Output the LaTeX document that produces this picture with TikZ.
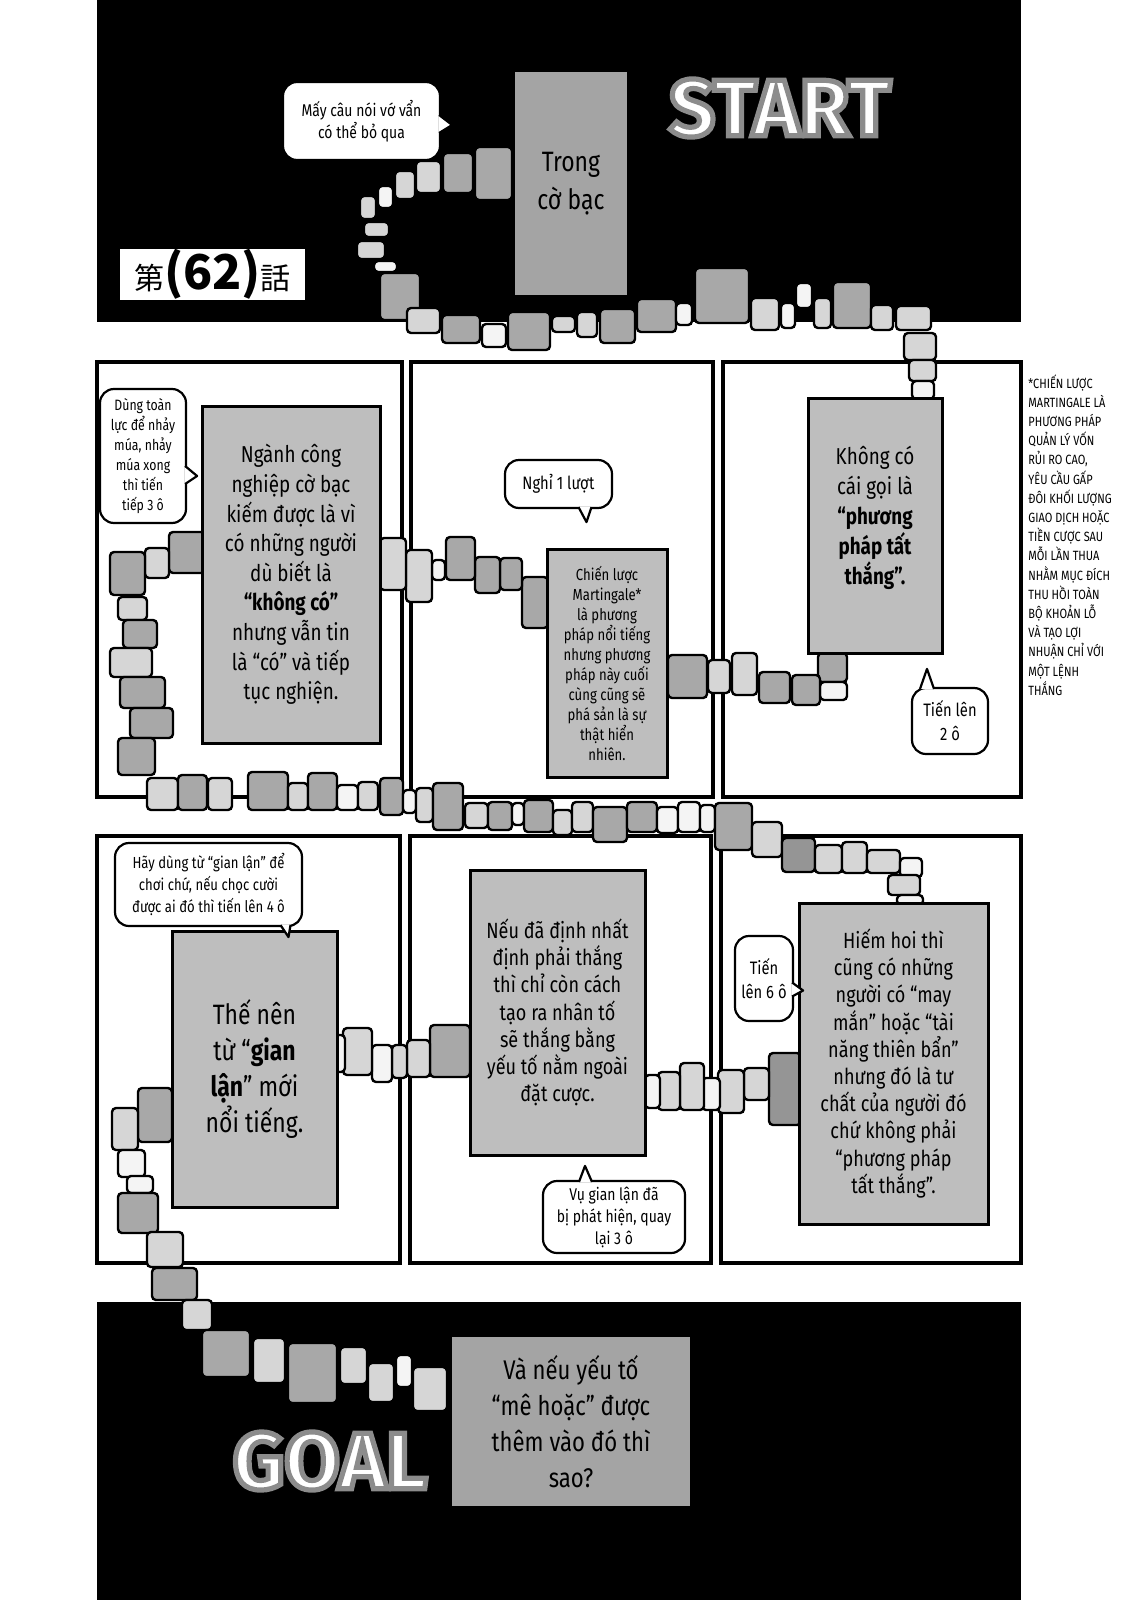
\documentclass[tikz,border=0pt]{standalone}
\usepackage{fontspec}
\usetikzlibrary{calc}
\newfontfamily\hand[FakeStretch=0.82]{Fira Sans}
\newfontfamily\headfont{Fira Sans}
\newfontfamily\cjk{Noto Sans CJK JP}
\newcommand{\rimtext}[1]{\special{pdf:literal direct 2 Tr 2.6 w 0.55 G}#1\special{pdf:literal direct 0 Tr}}
\definecolor{tm}{HTML}{A8A8A8}
\definecolor{tl}{HTML}{D6D6D6}
\definecolor{tw}{HTML}{F4F4F4}
\definecolor{td}{HTML}{959595}
\definecolor{tone}{HTML}{BEBEBE}
\definecolor{tonedark}{HTML}{A4A4A4}
\tikzset{
  panel/.style={draw, line width=2pt},
  tile/.style={draw, line width=1.2pt, rounded corners=2pt},
  tonebox/.style={fill=tonedark, text=black, align=center, inner sep=0pt},
  framebox/.style={draw, line width=1.5pt, fill=tone, text=black, align=center, inner sep=0pt},
  bubble/.style={draw, line width=1.1pt, fill=white, rounded corners=7pt, align=center, inner sep=1pt},
  bubtail/.style={draw, line width=1.1pt, fill=white, line join=round},
  bigword/.style={font={\headfont\bfseries\fontsize{40}{40}\selectfont}, text=white, inner sep=0pt},
  chapbox/.style={fill=white, minimum width=92.5pt, minimum height=25.5pt, inner sep=0pt},
  notetext/.style={anchor=north west, align=left, inner sep=0pt, font=\hand\fontsize{6.7}{9.6}\selectfont}
}

\begin{document}
\begin{tikzpicture}[x=0.5pt, y=-0.5pt]
  \useasboundingbox (0,0) rectangle (1125,1600);

  \fill[black] (97,0) rectangle (1021,322);
  \fill[black] (97,1302) rectangle (1021,1600);

  \draw[panel] (97,362) rectangle (402,797);
  \draw[panel] (411,362) rectangle (713,797);
  \draw[panel] (723,362) rectangle (1021,797);
  \draw[panel] (97,836) rectangle (400,1263);
  \draw[panel] (410,836) rectangle (711,1263);
  \draw[panel] (721,836) rectangle (1021,1263);

  % the road of squares, from start to goal
  \foreach \xa/\ya/\xb/\yb/\c in {
    475/147/512/200/tm, 443/153/473/193/tm, 416/161/441/193/tl, 395/171/415/199/tl,
    378/186/393/208/tw, 360/196/376/219/tl, 364/222/389/237/tl, 357/241/385/259/tl,
    374/261/397/272/tw, 380/273/420/320/tm, 407/308/440/333/tl, 442/315/480/343/tm,
    482/324/506/347/tw, 508/312/550/350/tm, 552/316/575/332/tl, 577/312/597/337/tl,
    600/309/635/343/tm, 637/299/676/332/tm, 676/303/692/325/tw, 695/268/749/323/tm,
    751/298/779/330/tl, 781/303/795/328/tw, 796/283/812/308/tw, 814/298/831/328/tl,
    833/282/871/328/tm, 871/305/893/330/tl, 896/306/931/330/tl, 904/333/936/360/tl,
    909/360/936/381/tl, 912/381/934/399/tw,
    818/653/847/682/tm, 820/682/847/700/tw, 792/675/820/705/tm, 759/672/790/703/tm,
    732/653/757/695/tl, 708/660/730/693/tl, 668/655/707/698/tm,
    522/577/548/628/tm, 500/558/522/590/tm, 475/557/500/593/tm, 446/537/475/580/tm,
    432/560/445/580/tw, 406/550/432/602/tl, 380/538/406/590/tl,
    169/532/205/573/tm, 145/548/169/578/tl, 110/552/145/595/tm, 118/597/147/620/tl,
    123/620/157/648/tm, 110/648/152/677/tl, 120/677/165/708/tm, 130/708/173/738/tm,
    118/738/155/775/tm, 147/778/178/810/tl, 178/775/207/810/tm, 208/778/232/810/tl,
    248/772/288/810/tm, 288/783/308/810/tl, 308/773/337/810/tm, 337/785/358/810/tw,
    358/782/378/810/tl, 380/778/403/815/tm, 403/790/416/813/tw, 416/788/433/822/tl,
    433/783/463/830/tm, 465/803/488/828/tl, 488/802/512/830/tm, 512/803/524/825/tw,
    524/800/553/832/tm, 553/810/572/835/tl, 572/802/593/832/tl, 593/807/627/842/tm,
    627/802/657/832/tm, 657/807/678/833/tw, 678/802/700/832/tw, 700/805/715/832/tw,
    715/803/752/850/tm, 752/822/782/857/tl, 782/838/815/872/td, 815/845/842/873/tl,
    842/842/867/873/tl, 867/850/900/873/tl, 900/858/922/877/tw, 888/875/920/895/tl,
    897/895/923/905/tw,
    769/1053/801/1125/td, 744/1068/769/1100/tl, 718/1070/744/1113/tl, 702/1078/720/1110/tw,
    680/1063/704/1110/tl, 658/1072/680/1110/tl, 645/1075/660/1108/tw,
    430/1025/470/1077/tm, 407/1040/430/1077/tl, 392/1045/407/1078/tl, 372/1045/392/1082/tw,
    343/1028/372/1075/tl, 335/1035/345/1072/tw,
    138/1088/172/1142/tm, 112/1108/138/1150/tl, 118/1150/145/1177/tw, 127/1176/153/1193/tw,
    118/1193/158/1233/tm, 147/1232/183/1267/tl, 152/1268/197/1300/tm, 182/1300/212/1330/tl,
    202/1330/250/1377/tm, 253/1338/285/1383/tl, 288/1343/337/1403/tm, 340/1347/367/1384/tl,
    368/1363/394/1402/tl, 396/1355/412/1387/tw, 413/1367/447/1411/tl}
    \draw[tile, fill=\c] (\xa,\ya) rectangle (\xb,\yb);

  \node[tonebox, minimum width=56pt, minimum height=111.5pt, font={\hand\fontsize{14}{19}\selectfont}] (trong) at (571,183.5)
    {Trong\\cờ bạc};
  \node[framebox, minimum width=89pt, minimum height=168.5pt, font={\hand\fontsize{11.5}{14.8}\selectfont}] (nganh) at (291,574.5)
    {Ngành công\\nghiệp cờ bạc\\kiếm được là vì\\có những người\\dù biết là\\{\bfseries “không có”}\\nhưng vẫn tin\\là “có” và tiếp\\tục nghiện.};
  \node[framebox, minimum width=60pt, minimum height=114pt, font={\hand\fontsize{8}{10}\selectfont}] (martin) at (607,663)
    {Chiến lược\\Martingale*\\là phương\\pháp nổi tiếng\\nhưng phương\\pháp này cuối\\cùng cũng sẽ\\phá sản là sự\\thật hiển\\nhiên.};
  \node[framebox, minimum width=67pt, minimum height=127.5pt, font={\hand\fontsize{11.5}{15}\selectfont}] (khong) at (875,525.5)
    {Không có\\cái gọi là\\{\bfseries “phương}\\{\bfseries pháp tất}\\{\bfseries thắng”.}\\[-5pt]};
  \node[framebox, minimum width=82.5pt, minimum height=138pt, font={\hand\fontsize{14}{18}\selectfont}] (thenen) at (254.5,1069)
    {Thế nên\\từ “\textbf{gian}\\\textbf{lận}” mới\\nổi tiếng.};
  \node[framebox, minimum width=87.5pt, minimum height=142.5pt, font={\hand\fontsize{11}{13.6}\selectfont}] (neuda) at (557.5,1012.5)
    {Nếu đã định nhất\\định phải thắng\\thì chỉ còn cách\\tạo ra nhân tố\\sẽ thắng bằng\\yếu tố nằm ngoài\\đặt cược.};
  \node[framebox, minimum width=94.5pt, minimum height=160.5pt, font={\hand\fontsize{11}{13.6}\selectfont}] (hiem) at (893.5,1063.5)
    {Hiếm hoi thì\\cũng có những\\người có “may\\mắn” hoặc “tài\\năng thiên bẩn”\\nhưng đó là tư\\chất của người đó\\chứ không phải\\“phương pháp\\tất thắng”.};
  \node[tonebox, minimum width=119pt, minimum height=84.5pt, font={\hand\fontsize{13.5}{18}\selectfont}] (mehoac) at (571,1421.5)
    {Và nếu yếu tố\\“mê hoặc” được\\thêm vào đó thì\\sao?};

  \node[bubble, minimum width=78.5pt, minimum height=39pt, font={\hand\fontsize{8.5}{11}\selectfont}] (q0) at (361.5,121)
    {Mấy câu nói vớ vẩn\\có thể bỏ qua};
  \draw[bubtail] ($(q0.east)+(-2,-6)$) -- ($(q0.east)+(11,4)$) -- ($(q0.east)+(-2,12)$);
  \node[bubble, minimum width=43pt, minimum height=67pt, font={\hand\fontsize{7.5}{10}\selectfont}] (q1) at (143,456)
    {Dùng toàn\\lực để nhảy\\múa, nhảy\\múa xong\\thì tiến\\tiếp 3 ô};
  \draw[bubtail] ($(q1.east)+(-2,10)$) -- ($(q1.east)+(10,20)$) -- ($(q1.east)+(-2,28)$);
  \node[bubble, minimum width=53.5pt, minimum height=24pt, font={\hand\fontsize{9}{11}\selectfont}] (q2) at (558.5,484)
    {Nghỉ 1 lượt};
  \draw[bubtail] ($(q2.south)+(20,-2)$) -- ($(q2.south)+(28,13)$) -- ($(q2.south)+(33,-2)$);
  \node[bubble, minimum width=38pt, minimum height=33pt, font={\hand\fontsize{9}{12}\selectfont}] (q3) at (950,721)
    {Tiến lên\\2 ô};
  \draw[bubtail] ($(q3.north)+(-30,2)$) -- ($(q3.north)+(-23,-18)$) -- ($(q3.north)+(-16,2)$);
  \node[bubble, minimum width=93.5pt, minimum height=41.5pt, font={\hand\fontsize{8}{11}\selectfont}] (q4) at (208.5,884.5)
    {Hãy dùng từ “gian lận” để\\chơi chứ, nếu chọc cười\\được ai đó thì tiến lên 4 ô};
  \draw[bubtail] ($(q4.south)+(72,-2)$) -- ($(q4.south)+(80,10)$) -- ($(q4.south)+(82,-2)$);
  \node[bubble, minimum width=71pt, minimum height=36pt, font={\hand\fontsize{8.5}{11}\selectfont}] (q5) at (614,1217)
    {Vụ gian lận đã\\bị phát hiện, quay\\lại 3 ô};
  \draw[bubtail] ($(q5.north)+(-35,2)$) -- ($(q5.north)+(-29,-14)$) -- ($(q5.north)+(-22,2)$);
  \node[bubble, minimum width=29pt, minimum height=42.5pt, font={\hand\fontsize{9}{12}\selectfont}] (q6) at (764,978.5)
    {Tiến\\lên 6 ô};
  \draw[bubtail] ($(q6.east)+(-2,4)$) -- ($(q6.east)+(9,12)$) -- ($(q6.east)+(-2,18)$);

  \node[bigword] (start) at (780,108) {\rimtext{START}};
  \node[bigword] (goal) at (330,1461) {\rimtext{GOAL}};

  \node[chapbox] (chapter) at (212.5,274.5)
    {{\cjk\fontsize{15}{15}\selectfont 第}{\cjk\bfseries\fontsize{24}{24}\selectfont(62)}{\cjk\fontsize{15}{15}\selectfont 話}};

  \node[notetext] (note) at (1028,374)
    {*CHIẾN LƯỢC\\MARTINGALE LÀ\\PHƯƠNG PHÁP\\QUẢN LÝ VỐN\\RỦI RO CAO,\\YÊU CẦU GẤP\\ĐÔI KHỐI LƯỢNG\\GIAO DỊCH HOẶC\\TIỀN CƯỢC SAU\\MỖI LẦN THUA\\NHẰM MỤC ĐÍCH\\THU HỒI TOÀN\\BỘ KHOẢN LỖ\\VÀ TẠO LỢI\\NHUẬN CHỈ VỚI\\MỘT LỆNH\\THẮNG};
\end{tikzpicture}
\end{document}
